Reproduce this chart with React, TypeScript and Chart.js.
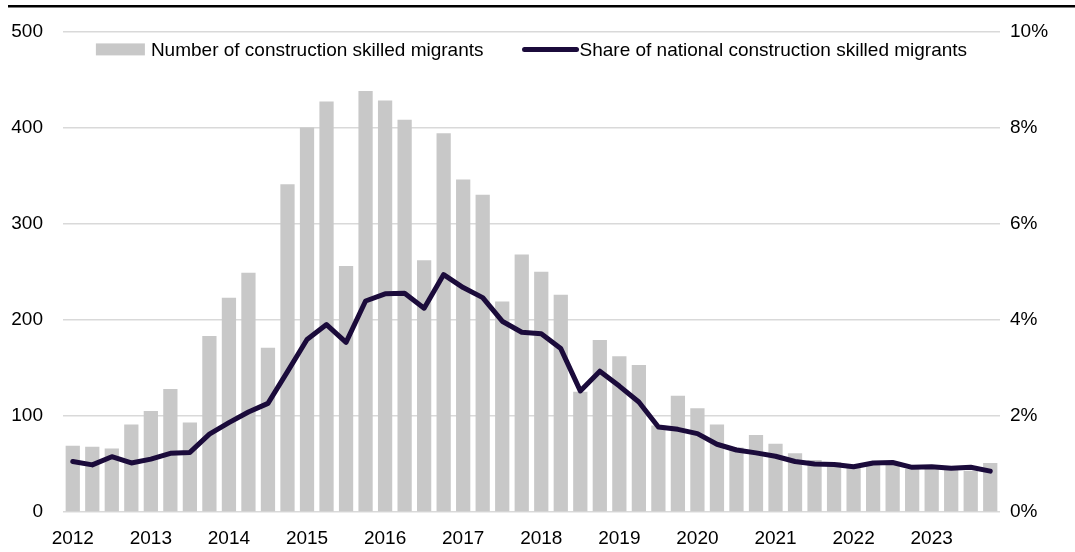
import React, { useEffect, useRef } from 'react';
import { Chart, registerables } from 'chart.js';

Chart.register(...registerables);

// ---------- data ----------
const years = ['2012', '2013', '2014', '2015', '2016', '2017', '2018', '2019', '2020', '2021', '2022', '2023'];
const quarters = ['Q1', 'Q2', 'Q3', 'Q4'];
const categories = years.flatMap((y) => quarters.map((q) => `${y} ${q}`));

const migrantCounts = [
  69, 68, 66, 91,
  105, 128, 93, 183,
  223, 249, 171, 341,
  400, 427, 256, 438,
  428, 408, 262, 394,
  346, 330, 219, 268,
  250, 226, 125, 179,
  162, 153, 90, 121,
  108, 91, 67, 80,
  71, 61, 54, 52,
  46, 49, 49, 45,
  45, 44, 43, 51,
];

const nationalSharePct = [
  1.05, 0.98, 1.15, 1.02,
  1.10, 1.22, 1.24, 1.62,
  1.86, 2.08, 2.26, 2.92,
  3.59, 3.90, 3.53, 4.39,
  4.54, 4.55, 4.24, 4.94,
  4.67, 4.46, 3.97, 3.74,
  3.71, 3.40, 2.52, 2.93,
  2.62, 2.29, 1.77, 1.72,
  1.63, 1.41, 1.29, 1.23,
  1.16, 1.05, 1.00, 0.99,
  0.94, 1.02, 1.03, 0.93,
  0.94, 0.91, 0.93, 0.85,
];

const seriesLabels = ['Number of construction skilled migrants', 'Share of national construction skilled migrants'];
const leftAxisRange = [0, 500, 100];
const rightAxisRange = [0, 10, 2];

// ---------- styles ----------
const BAR_COLOR = '#c8c8c8';
const LINE_COLOR = '#1b0b3b';
const GRID_COLOR = '#d9d9d9';
const TEXT_COLOR = '#000000';
const LINE_WIDTH = 5;

function pickFont(): { family: string; size: number } {
  const ctx = document.createElement('canvas').getContext('2d');
  if (ctx) {
    ctx.font = '40px monospace';
    const a = ctx.measureText('Number of construction').width;
    ctx.font = '40px "Liberation Sans Narrow", monospace';
    const b = ctx.measureText('Number of construction').width;
    if (Math.abs(a - b) > 0.5) return { family: '"Liberation Sans Narrow", "Liberation Sans", Arial, sans-serif', size: 22 };
  }
  return { family: '"Liberation Sans", Arial, sans-serif', size: 19 };
}

export default function App() {
  const canvasRef = useRef<HTMLCanvasElement | null>(null);

  useEffect(() => {
    document.body.style.margin = '0';
    const canvas = canvasRef.current;
    if (!canvas) return;
    const { family, size } = pickFont();
    const font = { family, size };

    const decorPlugin = {
      id: 'decor',
      afterDraw(chart: any) {
        const ctx = chart.ctx as CanvasRenderingContext2D;
        const ca = chart.chartArea;
        ctx.save();
        // top rule
        ctx.fillStyle = '#000';
        ctx.fillRect(8, 5, chart.width - 8, 2.5);
        // legend
        const ds = chart.data.datasets;
        ctx.font = `${size}px ${family}`;
        ctx.textBaseline = 'middle';
        ctx.textAlign = 'left';
        const w1 = ctx.measureText(ds[0].label).width;
        const w2 = ctx.measureText(ds[1].label).width;
        const boxW = 49, boxH = 12, gapBox = 6, itemGap = 39, lineLen = 56, gapLine = 1;
        const total = boxW + gapBox + w1 + itemGap + lineLen + gapLine + w2;
        let x = (ca.left + ca.right) / 2 - total / 2;
        const y = ca.top + 18;
        ctx.fillStyle = ds[0].backgroundColor;
        ctx.fillRect(x, y - boxH / 2, boxW, boxH);
        x += boxW + gapBox;
        ctx.fillStyle = TEXT_COLOR;
        ctx.fillText(ds[0].label, x, y + 1);
        x += w1 + itemGap;
        ctx.strokeStyle = ds[1].borderColor;
        ctx.lineWidth = LINE_WIDTH;
        ctx.lineCap = 'round';
        ctx.beginPath();
        ctx.moveTo(x + 2, y);
        ctx.lineTo(x + lineLen - 2, y);
        ctx.stroke();
        x += lineLen + gapLine;
        ctx.fillStyle = TEXT_COLOR;
        ctx.fillText(ds[1].label, x, y + 1);
        ctx.restore();
      },
    };

    const chart = new Chart(canvas, {
      type: 'bar',
      data: {
        labels: categories,
        datasets: [
          {
            type: 'bar',
            label: seriesLabels[0],
            data: migrantCounts,
            backgroundColor: BAR_COLOR,
            borderWidth: 0,
            barPercentage: 0.73,
            categoryPercentage: 1,
            yAxisID: 'y',
            order: 2,
          } as any,
          {
            type: 'line',
            label: seriesLabels[1],
            data: nationalSharePct,
            borderColor: LINE_COLOR,
            backgroundColor: LINE_COLOR,
            borderWidth: LINE_WIDTH,
            pointRadius: 0,
            tension: 0,
            borderJoinStyle: 'round',
            borderCapStyle: 'round',
            yAxisID: 'y1',
            order: 1,
          } as any,
        ],
      },
      options: {
        responsive: false,
        animation: false,
        layout: { padding: { top: 29, left: 0, right: 0, bottom: 0 } },
        plugins: { legend: { display: false }, tooltip: { enabled: false } },
        scales: {
          x: {
            grid: { display: false, drawTicks: false },
            border: { display: false },
            ticks: {
              autoSkip: false,
              maxRotation: 0,
              minRotation: 0,
              padding: 15,
              color: TEXT_COLOR,
              font,
              callback: (_v: any, i: number) => (i % 4 === 0 ? years[i / 4] : ''),
            },
            afterFit: (s: any) => { s.height = 40; },
          },
          y: {
            position: 'left',
            min: leftAxisRange[0],
            max: leftAxisRange[1],
            grid: { color: GRID_COLOR, lineWidth: 1.5, drawTicks: false },
            border: { display: false },
            ticks: { stepSize: leftAxisRange[2], padding: 20, color: TEXT_COLOR, font },
            afterFit: (s: any) => { s.width = 63; },
          },
          y1: {
            position: 'right',
            min: rightAxisRange[0],
            max: rightAxisRange[1],
            grid: { display: false, drawTicks: false, drawOnChartArea: false },
            border: { display: false },
            ticks: {
              stepSize: rightAxisRange[2],
              padding: 10,
              color: TEXT_COLOR,
              font,
              callback: (v: any) => `${v}%`,
            },
            afterFit: (s: any) => { s.width = 75; },
          },
        },
      } as any,
      plugins: [decorPlugin],
    });
    return () => chart.destroy();
  }, []);

  return (
    <div style={{ width: 1075, height: 552, position: 'relative' }}>
      <canvas ref={canvasRef} width={1075} height={552} style={{ display: 'block' }} />
    </div>
  );
}
